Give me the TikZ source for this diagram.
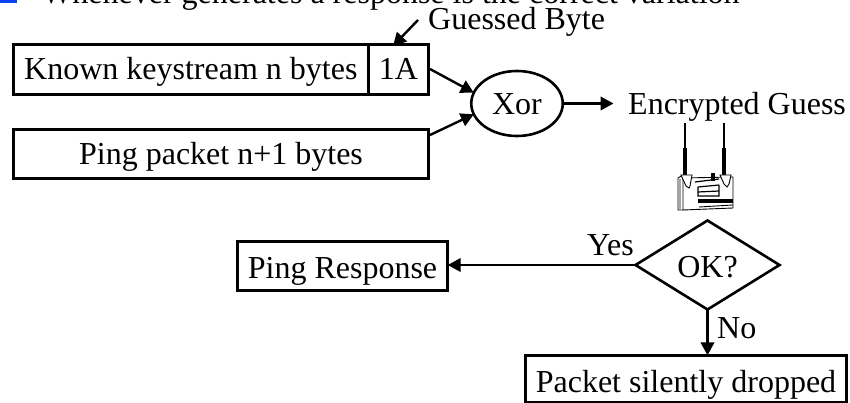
\documentclass[tikz,border=0pt]{standalone}
\usepackage{fontspec}
\setmainfont{Liberation Serif}
\usetikzlibrary{shapes.geometric,arrows.meta}
\definecolor{bulletblue}{rgb}{0.05,0.25,0.95}
\tikzset{
 lbl/.style={inner sep=0pt,font=\fontsize{32}{35}\selectfont,anchor=base west},
 shapen/.style={draw,line width=2.6pt,inner sep=0pt,outer sep=0pt,font=\fontsize{32}{35}\selectfont,text depth=0pt},
 boxn/.style={shapen,anchor=north west},
 arr/.style={line width=2.4pt,-{Triangle[length=13pt,width=13.5pt]}},
 ic/.style={line width=.9pt}
}
\begin{document}
\begin{tikzpicture}[x=1pt,y=-1pt]
\useasboundingbox (0,0) rectangle (850,403);
\clip (0,0) rectangle (850,403);
\fill[bulletblue] (0,-8) rectangle (17,3);
\node[lbl] (title) at (42,4) {Whenever generates a response is the correct variation};
\node[boxn,text height=21pt,minimum width=355pt,minimum height=50.4pt] (known) at (13.3,44.3) {Known keystream n bytes};
\node[boxn,text height=21pt,minimum width=60.4pt,minimum height=50.4pt] (guess) at (368.3,44.3) {1A};
\node[boxn,text height=22pt,minimum width=415.4pt,minimum height=49.4pt] (ping) at (13.3,129.3) {Ping packet n+1 bytes};
\node[shapen,ellipse,text height=23pt,minimum width=91.5pt,minimum height=65pt] (xor) at (517,103.5) {Xor};
\node[lbl] (gb) at (428,30) {Guessed Byte};
\node[lbl] (enc) at (628,115) {Encrypted Guess};
\node[boxn,text height=24pt,minimum width=210.4pt,minimum height=49.4pt] (resp) at (237.3,241.3) {Ping Response};
\node[shapen,diamond,aspect=1.6,text height=24pt,minimum width=144pt,minimum height=89pt] (ok) at (707.5,265) {OK?};
\node[boxn,text height=27pt,minimum width=321.4pt,minimum height=46.5pt] (drop) at (525.3,355.3) {Packet silently dropped};
\node[lbl] (yes) at (587,255) {Yes};
\node[lbl] (no) at (717,338) {No};
\coordinate (gbs) at (418,20);
\coordinate (gbe) at (393,46);
\draw[arr] (gbs) -- (gbe);
\coordinate (a1) at (430,69);
\coordinate (a2) at (430,135);
\draw[arr] (a1) -- (xor.166);
\draw[arr] (a2) -- (xor.194);
\coordinate (enctip) at (613.5,103.5);
\draw[arr] (xor.east) -- (enctip);
\draw[arr] (ok.west) -- (ok.west -| resp.east);
\draw[arr] (ok.south) -- (ok.south |- drop.north);
% router icon
\draw[line width=1.6pt] (685,123) -- (685,150) (724,123) -- (724,150);
\draw[line width=4pt] (685,148) -- (685,175) (724,148) -- (724,175);
\draw[ic,fill=white] (683,178) -- (733,177) -- (733,208) -- (683,210) -- cycle;
\draw[ic] (678,178) -- (678,210) -- (683,210) (678,178) -- (683,175) (680,179) -- (680,209);
\draw[ic,fill=white] (681,175) -- (692,175) -- (690,186) -- (689,188) -- (686,186) -- cycle;
\draw[ic,fill=white] (720,175) -- (731,175) -- (729,184) -- (727,187) -- (724,184) -- cycle;
\draw[line width=1.2pt] (695,182) -- (719,179) (698,187) -- (719,185) (698,187) -- (698,196) -- (719,196) -- (719,185) (698,192) -- (719,191);
\fill (711,173) rectangle (715,181);
\fill (698,199) rectangle (733,203);
\draw[ic] (699,207) -- (733,205);
\end{tikzpicture}
\end{document}
